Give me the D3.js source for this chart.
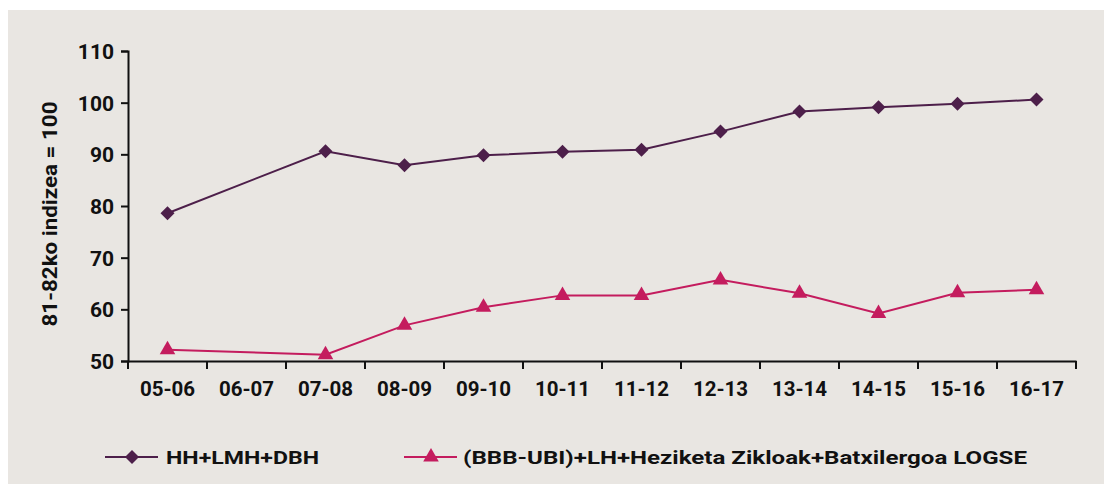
<!DOCTYPE html>
<html>
<head>
<meta charset="utf-8">
<script src="https://cdn.jsdelivr.net/npm/d3@7"></script>
<style>
  body { margin: 0; background: #fff; }
  svg text { font-family: Roboto, "Open Sans", sans-serif; font-weight: 700; fill: #111; }
</style>
</head>
<body>
<div id="chart"></div>
<script>
// data
const years = ["05-06", "06-07", "07-08", "08-09", "09-10", "10-11", "11-12", "12-13", "13-14", "14-15", "15-16", "16-17"];
const hhValues = [78.6, null, 90.6, 87.9, 89.8, 90.5, 90.9, 94.4, 98.3, 99.1, 99.8, 100.6];
const bbbValues = [52.2, null, 51.2, 56.9, 60.4, 62.7, 62.7, 65.7, 63.1, 59.2, 63.2, 63.8];
const yTicks = [50, 60, 70, 80, 90, 100, 110];
const seriesNames = ["HH+LMH+DBH", "(BBB-UBI)+LH+Heziketa Zikloak+Batxilergoa LOGSE"];
const yTitle = "81-82ko indizea = 100";

const width = 1104, height = 484;
const purple = "#4d1f4a", magenta = "#c41c5e";

const svg = d3.select("#chart").append("svg")
    .attr("width", width)
    .attr("height", height);

// beige panel
svg.append("rect")
    .attr("x", 8).attr("y", 10)
    .attr("width", width - 8).attr("height", height - 10)
    .attr("fill", "#e9e6e2");

const x = d3.scaleBand().domain(years).range([128, 1076]);
const y = d3.scaleLinear().domain([50, 110]).range([361, 51]);

// y axis
const yAxis = svg.append("g")
    .attr("transform", "translate(128,0)")
    .call(d3.axisLeft(y).tickValues(yTicks).tickSize(7).tickPadding(7));
yAxis.select(".domain").attr("stroke", "#111").attr("stroke-width", 2);
yAxis.selectAll(".tick line").attr("stroke", "#111").attr("stroke-width", 2);
yAxis.selectAll(".tick text").attr("font-size", 21).attr("dy", "0.36em");

// x axis, ticks on the band edges
const xAxis = svg.append("g")
    .attr("transform", "translate(0,361)")
    .call(d3.axisBottom(x).tickSize(0).tickPadding(20));
xAxis.select(".domain").attr("stroke", "#111").attr("stroke-width", 2);
xAxis.selectAll(".tick text").attr("font-size", 20.5);
xAxis.selectAll(".edge")
    .data(years.map(d => x(d)).concat([x.range()[1]]))
    .enter()
    .append("line")
    .attr("class", "edge")
    .attr("x1", d => d).attr("x2", d => d)
    .attr("y1", 0).attr("y2", 8)
    .attr("stroke", "#111").attr("stroke-width", 2);

svg.append("text")
    .attr("transform", "translate(57,214) rotate(-90)")
    .attr("text-anchor", "middle")
    .attr("font-size", 21)
    .attr("textLength", 225)
    .attr("lengthAdjust", "spacingAndGlyphs")
    .text(yTitle);

const cx = d => x(d) + x.bandwidth() / 2;
const diamond = d3.symbol().type(d3.symbolDiamond2).size(125);
const triangle = d3.symbol().type(d3.symbolTriangle).size(105);

function drawSeries(values, color, sym) {
    const pts = years.map((d, i) => ({ year: d, v: values[i] })).filter(p => p.v != null);
    svg.append("path")
        .datum(pts)
        .attr("fill", "none")
        .attr("stroke", color)
        .attr("stroke-width", 2)
        .attr("d", d3.line().x(p => cx(p.year)).y(p => y(p.v)));
    svg.append("g")
        .selectAll("path")
        .data(pts)
        .enter()
        .append("path")
        .attr("transform", p => `translate(${cx(p.year)},${y(p.v)})`)
        .attr("d", sym)
        .attr("fill", color);
}

drawSeries(hhValues, purple, diamond);
drawSeries(bbbValues, magenta, triangle);

// legend
const legend = [
    { name: seriesNames[0], color: purple, sym: diamond, x0: 105, tx: 166, tw: 153 },
    { name: seriesNames[1], color: magenta, sym: triangle, x0: 404, tx: 463, tw: 564 }
];
legend.forEach(l => {
    const g = svg.append("g").attr("transform", "translate(0,457)");
    g.append("line")
        .attr("x1", l.x0).attr("x2", l.x0 + 53)
        .attr("stroke", l.color).attr("stroke-width", 2);
    g.append("path")
        .attr("transform", `translate(${l.x0 + 27},0)`)
        .attr("d", l.sym)
        .attr("fill", l.color);
    g.append("text")
        .attr("x", l.tx).attr("y", 0)
        .attr("dy", "0.36em")
        .attr("font-size", 19)
        .attr("textLength", l.tw)
        .attr("lengthAdjust", "spacingAndGlyphs")
        .text(l.name);
});
</script>
</body>
</html>
